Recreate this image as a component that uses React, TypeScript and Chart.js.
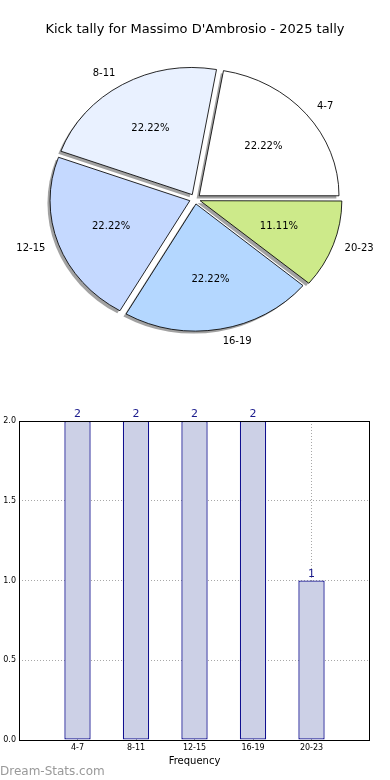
import React, { useEffect, useRef } from "react";
import { Chart, registerables } from "chart.js";

Chart.register(...registerables);

const TITLE = "Kick tally for Massimo D'Ambrosio - 2025 tally";
const categories = ["4-7", "8-11", "12-15", "16-19", "20-23"];
const counts = [2, 2, 2, 2, 1];
const pieColors = ["#ffffff", "#e9f1ff", "#c5d9ff", "#b4d7ff", "#cdea8a"];
const barPositions = [1, 2, 3, 4, 5];
const yTicks = [0, 0.5, 1, 1.5, 2];
const X_LABEL = "Frequency";
const WATERMARK = "Dream-Stats.com";

const FONT = "'DejaVu Sans', sans-serif";
const SX = 1.1; // horizontal stretch of the (non-equal-aspect) pie
const SHADOW_DX = -2.6;
const SHADOW_DY = 2.6;

function arcShift(arc: any) {
  return (arc.options.offset || 0) / 4;
}

const pieFx = {
  id: "pieFx",
  beforeDatasetsDraw(chart: any) {
    const meta = chart.getDatasetMeta(0);
    const ctx = chart.ctx;
    const cx = meta.data[0].x;
    const cy = meta.data[0].y;
    ctx.save();
    ctx.translate(cx, cy);
    ctx.scale(SX, 1);
    ctx.translate(-cx, -cy);
    meta.data.forEach((arc: any) => {
      const { startAngle, endAngle, outerRadius } = arc;
      const off = arcShift(arc);
      const circ = endAngle - startAngle;
      const fix = 1 - Math.sin(Math.min(Math.PI, circ));
      const r = outerRadius + off * fix;
      const mid = (startAngle + endAngle) / 2;
      const ox = cx + Math.cos(mid) * off + SHADOW_DX / SX;
      const oy = cy + Math.sin(mid) * off + SHADOW_DY;
      ctx.beginPath();
      ctx.moveTo(ox, oy);
      ctx.arc(ox, oy, r, startAngle, endAngle);
      ctx.closePath();
      ctx.fillStyle = "rgba(70,70,70,0.5)";
      ctx.fill();
    });
  },
  afterDatasetsDraw(chart: any) {
    const ctx = chart.ctx;
    ctx.restore();
    const meta = chart.getDatasetMeta(0);
    const cx = meta.data[0].x;
    const cy = meta.data[0].y;
    const labels = chart.data.labels;
    const vals = chart.data.datasets[0].data;
    const total = vals.reduce((a: number, b: number) => a + b, 0);
    ctx.save();
    ctx.fillStyle = "#000";
    ctx.font = `10px ${FONT}`;
    ctx.textBaseline = "middle";
    meta.data.forEach((arc: any, i: number) => {
      const { startAngle, endAngle, outerRadius } = arc;
      const off = arcShift(arc);
      const mid = (startAngle + endAngle) / 2;
      const c = Math.cos(mid);
      const s = Math.sin(mid);
      const px = cx + SX * c * (off + 0.6 * outerRadius);
      const py = cy + s * (off + 0.6 * outerRadius);
      ctx.textAlign = "center";
      ctx.fillText(((vals[i] / total) * 100).toFixed(2) + "%", px, py);
      const lx = cx + SX * c * (off + 1.1 * outerRadius);
      const ly = cy + s * (off + 1.1 * outerRadius);
      ctx.textAlign = c >= 0 ? "left" : "right";
      ctx.fillText(labels[i], lx, ly);
    });
    ctx.restore();
  },
  afterDraw(chart: any) {
    const ctx = chart.ctx;
    ctx.save();
    ctx.fillStyle = "#000";
    ctx.font = `13px ${FONT}`;
    ctx.textAlign = "center";
    ctx.textBaseline = "middle";
    ctx.fillText(TITLE, 195, 30);
    ctx.restore();
  },
};

const barFx = {
  id: "barFx",
  afterDatasetsDraw(chart: any) {
    const ctx = chart.ctx;
    const meta = chart.getDatasetMeta(0);
    ctx.save();
    ctx.fillStyle = "#1a1a8c";
    ctx.font = `11px ${FONT}`;
    ctx.textAlign = "center";
    ctx.textBaseline = "alphabetic";
    meta.data.forEach((bar: any, i: number) => {
      ctx.fillText(String(counts[i]), bar.x, bar.y - 4);
    });
    ctx.restore();
  },
  afterDraw(chart: any) {
    const { left, right, top, bottom } = chart.chartArea;
    const ctx = chart.ctx;
    ctx.save();
    ctx.strokeStyle = "#000";
    ctx.lineWidth = 1;
    ctx.strokeRect(Math.round(left) + 0.5, Math.round(top) + 0.5, Math.round(right - left) - 1, Math.round(bottom - top));
    ctx.restore();
  },
};

function PieChart() {
  const ref = useRef<HTMLCanvasElement>(null);
  useEffect(() => {
    const order = [...categories.keys()].reverse();
    const chart = new Chart(ref.current as HTMLCanvasElement, {
      type: "pie",
      data: {
        labels: order.map((i) => categories[i]),
        datasets: [
          {
            data: order.map((i) => counts[i]),
            backgroundColor: order.map((i) => pieColors[i]),
            borderColor: "#000",
            borderWidth: 0.8,
            offset: 20,
          } as any,
        ],
      },
      options: {
        responsive: false,
        animation: false,
        rotation: 90,
        radius: 127,
        layout: { padding: { top: 8, bottom: 0, left: 0, right: 0 } },
        plugins: { legend: { display: false }, tooltip: { enabled: false }, title: { display: false } },
        events: [],
      } as any,
      plugins: [pieFx],
    });
    return () => chart.destroy();
  }, []);
  return <canvas ref={ref} width={390} height={390} style={{ width: 390, height: 390, display: "block" }} />;
}

function BarChart() {
  const ref = useRef<HTMLCanvasElement>(null);
  useEffect(() => {
    const chart = new Chart(ref.current as HTMLCanvasElement, {
      type: "bar",
      data: {
        datasets: [
          {
            data: counts.map((v, i) => ({ x: barPositions[i], y: v })),
            backgroundColor: "#ccd0e6",
            borderColor: "#10108f",
            borderWidth: 1.3,
            borderSkipped: false,
            categoryPercentage: 1,
            barPercentage: 0.45,
          } as any,
        ],
      },
      options: {
        responsive: false,
        animation: false,
        events: [],
        layout: { padding: { left: 0, right: 20, top: 31, bottom: 0 } },
        plugins: { legend: { display: false }, tooltip: { enabled: false } },
        scales: {
          x: {
            type: "linear",
            min: 0,
            max: 6,
            offset: false,
            z: 1,
            afterBuildTicks: (s: any) => {
              s.ticks = barPositions.map((v) => ({ value: v }));
            },
            afterFit: (s: any) => {
              s.height = 40;
            },
            ticks: {
              callback: (v: any) => categories[barPositions.indexOf(v)] ?? "",
              font: { size: 8, family: FONT },
              color: "#000",
              padding: 3,
              maxRotation: 0,
              autoSkip: false,
            },
            grid: { color: "#a8a8a8", drawTicks: false, lineWidth: 1, offset: false },
            border: { display: false, dash: [1, 2] },
            title: { display: true, text: X_LABEL, font: { size: 10, family: FONT }, color: "#000", padding: { top: 0, bottom: 13 } },
          },
          y: {
            min: 0,
            max: 2,
            z: 1,
            afterBuildTicks: (s: any) => {
              s.ticks = yTicks.map((v) => ({ value: v }));
            },
            afterFit: (s: any) => {
              s.width = 19;
            },
            ticks: {
              callback: (v: any) => Number(v).toFixed(1),
              font: { size: 8, family: FONT },
              color: "#000",
              padding: 3,
            },
            grid: { color: "#a8a8a8", drawTicks: false, lineWidth: 1 },
            border: { display: false, dash: [1, 2] },
          },
        },
      } as any,
      plugins: [barFx],
    });
    return () => chart.destroy();
  }, []);
  return <canvas ref={ref} width={390} height={390} style={{ width: 390, height: 390, display: "block" }} />;
}

export default function App() {
  return (
    <div style={{ position: "absolute", left: 0, top: 0, width: 390, height: 780, background: "#fff", fontFamily: FONT }}>
      <div style={{ position: "absolute", left: 0, top: 0 }}>
        <PieChart />
      </div>
      <div style={{ position: "absolute", left: 0, top: 390 }}>
        <BarChart />
      </div>
      <div
        style={{
          position: "absolute",
          left: 0,
          top: 764,
          fontSize: 12,
          lineHeight: "14px",
          color: "#999",
          fontFamily: FONT,
        }}
      >
        {WATERMARK}
      </div>
    </div>
  );
}
